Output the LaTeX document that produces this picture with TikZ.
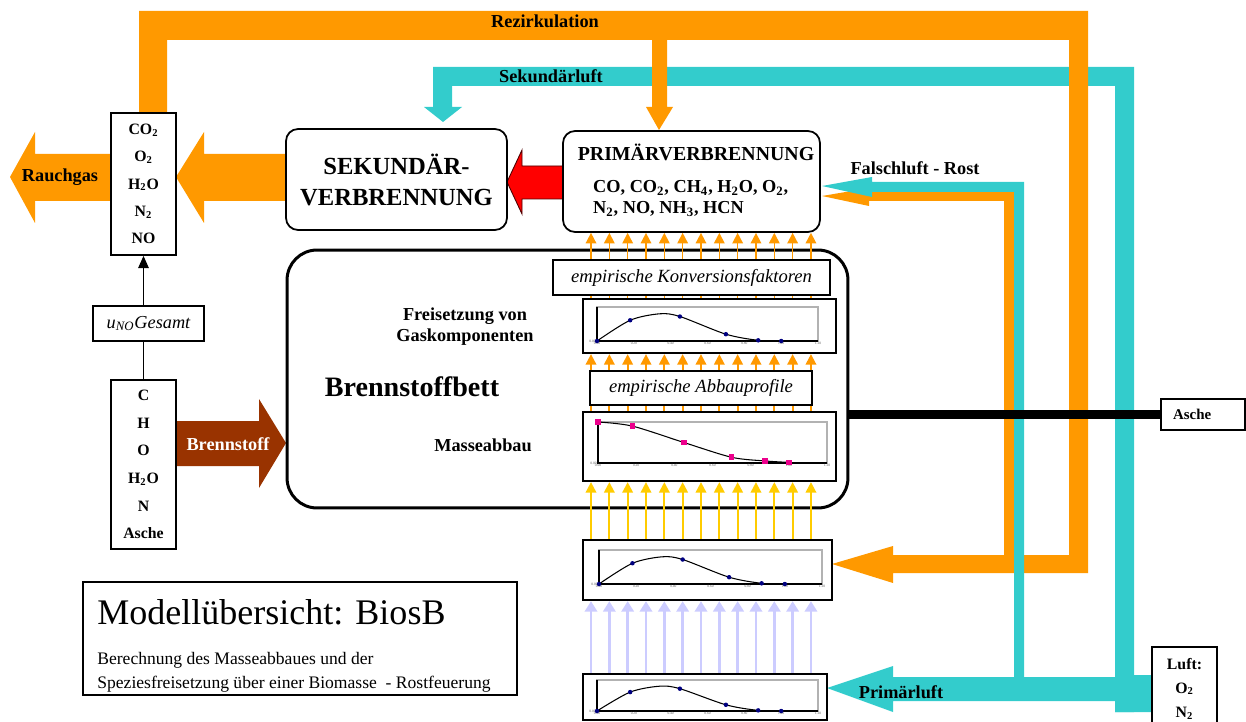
\documentclass[tikz,border=0pt]{standalone}
\usepackage{fontspec}
\setmainfont{Liberation Serif}
\usetikzlibrary{arrows.meta, calc, positioning}
\definecolor{rzorange}{HTML}{FF9900}
\definecolor{lucyan}{HTML}{33CCCC}
\definecolor{bsbrown}{HTML}{993300}
\definecolor{goldarr}{HTML}{FFCC00}
\definecolor{lavarr}{HTML}{CCCCFF}
\definecolor{ptnavy}{HTML}{000080}
\tikzset{
  kasten/.style={draw, fill=white, line width=1pt},
  rkasten/.style={kasten, rounded corners=0.24cm},
  chartbox/.style={draw, fill=white, line width=1.3pt},
  txtbox/.style={draw, fill=white, line width=0.9pt, font=\itshape\fontsize{10.6}{12}\selectfont},
  lbl/.style={font=\bfseries\fontsize{10.4}{12}\selectfont},
  spec/.style={align=center, font=\bfseries\fontsize{9}{15.6}\selectfont},
  flowup/.style={-{Triangle[length=6pt,width=6pt]}, line width=0.9pt},
  dotmark/.style={circle, fill=ptnavy, inner sep=0.9pt},
  sqmark/.style={rectangle, fill=magenta, inner sep=1.6pt},
  ticklbl/.style={font=\fontsize{2}{2}\selectfont, inner sep=0.6pt, gray!70!black},
}
% small profile chart: inner plot area x0,y0 (top left) to x1,y1 (bottom right) in px
\newcommand{\profil}[7]{%
  \pgfmathsetmacro{\pw}{(#3-#1)*0.02/1.2}%
  \pgfmathsetmacro{\ph}{(#4-#2)*0.02}%
  \begin{scope}[shift={(#1,#4)}, x=\pw cm, y=\ph cm]
    \draw[gray!60, line width=0.7pt] (0,0) rectangle (1.2,1);
    \draw[line width=0.6pt] (0,1) -- (0,0) -- (1.2,0);
    \foreach \t in {0.00,0.20,0.40,0.60,0.80,1.00,1.20}
      \node[ticklbl, below] at (\t,0) {\t};
    \node[ticklbl, left] at (0,0) {0.00};
    \draw[line width=0.6pt] plot[smooth] coordinates {#6};
    \foreach \p in {#7} \node[#5] at \p {};
  \end{scope}}

\begin{document}
\begin{tikzpicture}[x=0.02cm, y=-0.02cm, line join=miter]
  \useasboundingbox (0,0) rectangle (1246,722);
  % Sekundaerluft duct (cyan), first so the recirculation crosses over it
  \fill[lucyan] (1134,712) -- (1134,67) -- (433,67) -- (433,107) -- (424,107) -- (443,122)
    -- (462,107) -- (452,107) -- (452,86) -- (1115,86) -- (1115,712) -- cycle;
  % Rezirkulation duct (orange)
  \fill[rzorange] (139,113) -- (139,11) -- (1088,11) -- (1088,573) -- (893,573) -- (893,583)
    -- (832,564) -- (893,546) -- (893,555) -- (1069,555) -- (1069,40) -- (167,40) -- (167,113) -- cycle;
  \fill[rzorange] (652,40) -- (652,107) -- (646,107) -- (659,130) -- (673,107) -- (667,107) -- (667,40) -- cycle;
  % Falschluft branch of the recirculation
  \fill[rzorange] (1004,556) -- (1004,201) -- (869,201) -- (869,206) -- (822,196) -- (869,188)
    -- (869,192) -- (1014,192) -- (1014,556) -- cycle;
  % Falschluft and Primaerluft (cyan)
  \fill[lucyan] (1024,678) -- (1024,182) -- (872,182) -- (872,177) -- (822,186) -- (872,197)
    -- (872,192) -- (1014,192) -- (1014,678) -- cycle;
  \fill[lucyan] (1152,675) -- (1152,712) -- (1115,712) -- (1115,701) -- (893,701) -- (893,712)
    -- (827,688) -- (893,666) -- (893,677) -- (1115,677) -- (1115,675) -- cycle;

  % big flow arrows
  \fill[rzorange] (111,154) -- (35,154) -- (35,132) -- (10,177) -- (35,223) -- (35,201) -- (111,201) -- cycle;
  \fill[rzorange] (286,154) -- (204,154) -- (204,132) -- (176,177) -- (204,223) -- (204,201) -- (286,201) -- cycle;
  \filldraw[fill=red, draw=black!70!red, line width=0.5pt] (563,166) -- (522,166) -- (522,150) -- (507,182)
    -- (522,214) -- (522,199) -- (563,199) -- cycle;
  \fill[bsbrown] (176,421) -- (259,421) -- (259,399) -- (286,443) -- (259,488) -- (259,466) -- (176,466) -- cycle;

  % fuel bed and combustion zones
  \node[draw, fill=white, line width=1.7pt, rounded corners=0.6cm, minimum width=11.22cm, minimum height=5.16cm] (bed) at (567.5,379) {};
  \node[rkasten, minimum width=4.42cm, minimum height=2.02cm, align=center,
    font=\bfseries\fontsize{14}{17.6}\selectfont] (sek) at (396.5,179.5) {SEKUNDÄR-\\VERBRENNUNG};
  \node[rkasten, minimum width=5.14cm, minimum height=2.02cm] (prim) at (691.5,181.5) {};
  \node[font=\bfseries\fontsize{11.3}{13}\selectfont] (primtitel) at (696,152) {PRIMÄRVERBRENNUNG};
  \node[anchor=west, align=left, font=\bfseries\fontsize{10.4}{12}\selectfont] (primgas) at (587,198.5)
    {CO, CO\textsubscript{2}, CH\textsubscript{4}, H\textsubscript{2}O, O\textsubscript{2},\\N\textsubscript{2}, NO, NH\textsubscript{3}, HCN};

  % profile charts
  \node[chartbox, minimum width=5.06cm, minimum height=1.08cm] (chart1) at (709.5,326) {};
  \node[chartbox, minimum width=5.06cm, minimum height=1.38cm] (chart2) at (709.5,446.5) {};
  \node[chartbox, minimum width=4.98cm, minimum height=1.2cm] (chart3) at (707.5,570) {};
  \node[chartbox, minimum width=4.88cm, minimum height=0.92cm] (chart4) at (705,697) {};
  \profil{597}{307}{818}{341}{dotmark}{(0,0) (0.18,0.61) (0.34,0.8) (0.45,0.72) (0.70,0.2) (0.875,0.02) (1.0,0)}
    {(0,0),(0.18,0.61),(0.45,0.72),(0.70,0.2),(0.875,0.02),(1.0,0)}
  \profil{598}{422}{827}{463}{sqmark}{(0,1) (0.18,0.9) (0.45,0.5) (0.70,0.14) (0.875,0.05) (1.0,0.015)}
    {(0,1),(0.18,0.9),(0.45,0.5),(0.70,0.14),(0.875,0.05),(1.0,0.015)}
  \profil{599}{550}{822}{584}{dotmark}{(0,0) (0.18,0.61) (0.34,0.8) (0.45,0.72) (0.70,0.2) (0.875,0.02) (1.0,0)}
    {(0,0),(0.18,0.61),(0.45,0.72),(0.70,0.2),(0.875,0.02),(1.0,0)}
  \profil{597}{680}{818}{711}{dotmark}{(0,0) (0.18,0.61) (0.34,0.8) (0.45,0.72) (0.70,0.2) (0.875,0.02) (1.0,0)}
    {(0,0),(0.18,0.61),(0.45,0.72),(0.70,0.2),(0.875,0.02),(1.0,0)}

  % columns of small flow arrows
  \foreach \i in {0,...,12}{
    \pgfmathsetmacro{\ax}{591+18.33*\i}
    \draw[flowup, rzorange] (\ax,0 |- chart1.north) -- (\ax,0 |- prim.south);
    \draw[flowup, rzorange, line width=1.1pt] (\ax,0 |- chart2.north) -- (\ax,0 |- chart1.south);
    \draw[flowup, goldarr, line width=1.1pt] (\ax,0 |- chart3.north) -- (\ax,0 |- chart2.south);
    \draw[-{Triangle[length=6pt,width=7pt]}, lavarr, line width=1.6pt] (\ax,0 |- chart4.north) -- (\ax,0 |- chart3.south);
  }
  \node[txtbox, minimum width=5.54cm, minimum height=0.7cm] (konv) at (691.5,277.5) {empirische Konversionsfaktoren};
  \node[txtbox, minimum width=4.44cm, minimum height=0.68cm] (abbau) at (701,388) {empirische Abbauprofile};

  % texts in the bed
  \node[lbl, align=center] (freis) at (465,327) {Freisetzung von\\Gaskomponenten};
  \node[font=\bfseries\fontsize{16}{19}\selectfont] (bett) at (412,387) {Brennstoffbett};
  \node[lbl] (masse) at (483,445) {Masseabbau};

  % flue gas and fuel composition
  \node[kasten, minimum width=1.3cm, minimum height=2.84cm, spec] (gas) at (143.5,184)
    {CO\textsubscript{2}\\O\textsubscript{2}\\H\textsubscript{2}O\\N\textsubscript{2}\\NO};
  \node[kasten, minimum width=1.3cm, minimum height=3.38cm, spec, font=\bfseries\fontsize{9}{15.7}\selectfont] (fuel) at (143.5,464.5)
    {C\\H\\O\\H\textsubscript{2}O\\N\\Asche};
  \node[kasten, line width=0.8pt, minimum width=2.22cm, minimum height=0.7cm,
    font=\itshape\fontsize{10.4}{12}\selectfont] (uno) at (148.5,323.5) {u\textsubscript{NO}Gesamt};
  \draw[line width=0.9pt] (fuel.north) -- (fuel.north |- uno.south);
  \draw[line width=0.9pt, -{Triangle[length=7pt,width=6pt]}] (gas.south |- uno.north) -- (gas.south);

  % ash and air
  \node[kasten, inner xsep=0.24cm, text width=1.2cm, minimum height=0.62cm, align=left,
    font=\bfseries\fontsize{8.5}{10}\selectfont] (asche) at (1203,414.5) {Asche};
  \draw[line width=5pt] (bed.east |- asche.west) -- (asche.west);
  \node[kasten, minimum width=1.3cm, minimum height=1.66cm, spec, font=\bfseries\fontsize{9}{13.7}\selectfont] (luft) at (1184.5,688.5)
    {Luft:\\O\textsubscript{2}\\N\textsubscript{2}};

  % labels on the ducts
  \node[lbl] (rezi) at (545,21) {Rezirkulation};
  \node[lbl] (sekl) at (551,76) {Sekundärluft};
  \node[lbl] (fals) at (915,168) {Falschluft - Rost};
  \node[lbl] (priml) at (901,692) {Primärluft};
  \node[lbl] (rauch) at (60,177) {Rauchgas};
  \node[lbl, white] (brenn) at (228,444) {Brennstoff};

  % title box
  \node[kasten, minimum width=8.68cm, minimum height=2.26cm] (modell) at (300,638.5) {};
  \node[anchor=base west, inner sep=0, font=\fontsize{20.5}{24}\selectfont] (mtitel) at (97,624) {Modellübersicht: BiosB};
  \node[anchor=base west, inner sep=0, font=\fontsize{10}{12}\selectfont] (mzeile1) at (97,664) {Berechnung des Masseabbaues und der};
  \node[anchor=base west, inner sep=0, font=\fontsize{10}{12}\selectfont] (mzeile2) at (97,688) {Speziesfreisetzung über einer Biomasse\ \ - Rostfeuerung};
\end{tikzpicture}
\end{document}
